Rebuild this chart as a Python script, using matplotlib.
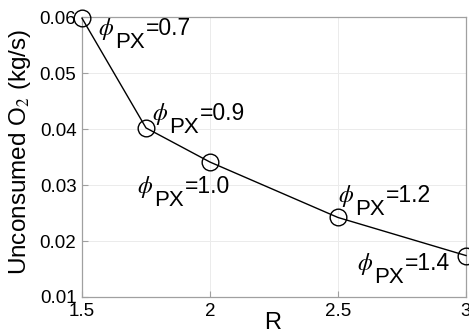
import matplotlib
matplotlib.use("Agg")
import matplotlib.pyplot as plt
from matplotlib.transforms import offset_copy

R = [1.5, 1.75, 2.0, 2.5, 3.0]
o2 = [0.0598, 0.0402, 0.0341, 0.0242, 0.0174]
labels = ["0.7", "0.9", "1.0", "1.2", "1.4"]
label_pos = [(1.5625, 0.0568), (1.773, 0.0416), (1.715, 0.0286), (2.50, 0.0270), (2.574, 0.0148)]
xticks = [1.5, 2, 2.5, 3]
xticklabels = ['1.5', '2', '2.5', '3']
yticks = [0.01, 0.02, 0.03, 0.04, 0.05, 0.06]

plt.rcParams['font.family'] = ['Liberation Sans', 'DejaVu Sans']
plt.rcParams['mathtext.fontset'] = 'stix'

fig = plt.figure(figsize=(4.69, 3.34), dpi=100)
ax = fig.add_axes([0.1748, 0.1108, 0.8188, 0.8382])
ax.plot(R, o2, color='black', lw=1.0, marker='o', ms=12, mfc='none', mec='black', mew=1.0,
        clip_on=False, zorder=5)
ax.set_xlim(1.5, 3)
ax.set_ylim(0.01, 0.06)

renderer = fig.canvas.get_renderer()
fs = 16
for (x, y), t in zip(label_pos, labels):
    t1 = ax.text(x, y, r'$\phi$', fontsize=fs + 1, va='baseline', ha='left', clip_on=False)
    w1 = t1.get_window_extent(renderer).width
    tr2 = offset_copy(ax.transData, fig=fig, x=w1 + 1, y=-13, units='dots')
    t2 = ax.text(x, y, 'PX', transform=tr2, fontsize=fs, va='baseline', ha='left', clip_on=False)
    w2 = t2.get_window_extent(renderer).width
    tr3 = offset_copy(ax.transData, fig=fig, x=w1 + w2 + 2, y=0, units='dots')
    ax.text(x, y, '=' + t, transform=tr3, fontsize=fs + 0.5, va='baseline', ha='left', clip_on=False)

ax.set_xticks(xticks)
ax.set_xticklabels(xticklabels)
ax.set_yticks(yticks)
ax.set_yticklabels(['%.2f' % v for v in yticks])
ax.tick_params(direction='in', labelsize=13.5, length=4, color='#a0a0a0', pad=4)
ax.grid(True, color='#ebebeb', lw=0.7)
for s in ax.spines.values():
    s.set_color('#a0a0a0')
    s.set_linewidth(0.9)
ax.set_xlabel('R', fontsize=17)
ax.xaxis.set_label_coords(0.497, -0.055)
ax.set_ylabel(r'Unconsumed O$_2$ (kg/s)', fontsize=17.5)
ax.yaxis.set_label_coords(-0.127, 0.52)
fig.savefig('out.png', dpi=100)
